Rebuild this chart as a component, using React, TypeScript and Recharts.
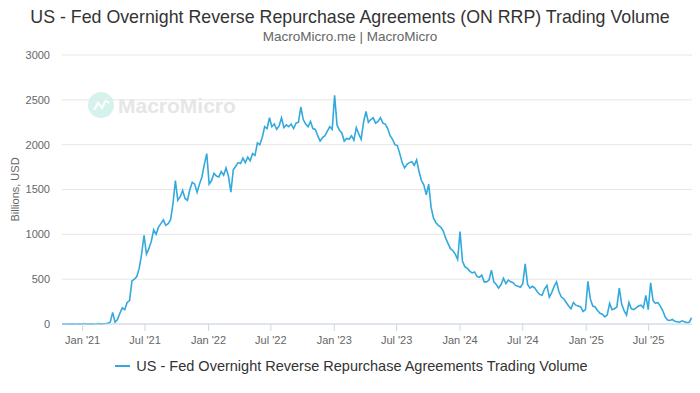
import React from "react";
import { LineChart, Line, XAxis, YAxis, CartesianGrid, Legend } from "recharts";

const SERIES_NAME = "US - Fed Overnight Reverse Repurchase Agreements Trading Volume";

// weekly readings, first one on 2 Nov 2020 (billions USD)
const startDate = Date.UTC(2020, 10, 2);
const stepDays = 7;

const volume = [
  0, 0, 0, 0, 1, 0, 0, 2, 0, 5,
  0, 1, 3, 0, 2, 5, 1, 3, 5, 8,
  20, 130, 20, 50, 120, 180, 160, 240, 260, 480,
  500, 530, 620, 780, 990, 780, 840, 920, 1050, 1000,
  1080, 1120, 1160, 1100, 1120, 1160, 1340, 1600, 1380, 1420,
  1490, 1400, 1380, 1500, 1580, 1560, 1470, 1560, 1640, 1780,
  1900, 1560, 1600, 1680, 1650, 1640, 1700, 1660, 1740, 1650,
  1470, 1720, 1760, 1800, 1790, 1850, 1800, 1860, 1820, 1900,
  1880, 2020, 2000, 2080, 2200, 2180, 2300, 2200, 2230, 2170,
  2210, 2300, 2190, 2220, 2200, 2230, 2180, 2240, 2250, 2420,
  2280, 2230, 2200, 2260, 2180, 2170, 2100, 2040, 2080, 2100,
  2150, 2200, 2170, 2550, 2220, 2160, 2130, 2040, 2070, 2060,
  2100, 2050, 2190, 2120, 2060, 2250, 2370, 2250, 2280, 2300,
  2240, 2260, 2300, 2240, 2230, 2180, 2100, 2060, 2000, 1990,
  1900, 1800, 1740, 1780, 1800, 1810, 1770, 1830, 1700, 1600,
  1550, 1440, 1560, 1300, 1180, 1130, 1100, 1080, 1040, 960,
  900, 840, 820, 780, 720, 1030, 700, 640, 620, 590,
  570, 580, 530, 520, 545, 470, 470, 490, 600, 470,
  440, 400, 440, 510, 450, 490, 470, 460, 430, 420,
  410, 450, 670, 440, 400, 420, 400, 360, 330, 320,
  390, 430, 300, 350, 420, 470, 360, 300, 280, 240,
  200, 170, 240, 210, 200, 190, 140, 160, 475, 280,
  200, 190, 150, 120, 110, 80, 100, 230, 160, 170,
  190, 400, 220, 150, 100, 240, 170, 160, 180, 200,
  210, 180, 320, 160, 460, 260, 230, 240, 200, 150,
  80, 45, 40, 50, 30, 25, 20, 35, 25, 15,
  20, 70,
];

const xTickDates = [
  "2021-01-01", "2021-07-01", "2022-01-01", "2022-07-01", "2023-01-01",
  "2023-07-01", "2024-01-01", "2024-07-01", "2025-01-01", "2025-07-01",
];
const xTickLabels = [
  "Jan '21", "Jul '21", "Jan '22", "Jul '22", "Jan '23",
  "Jul '23", "Jan '24", "Jul '24", "Jan '25", "Jul '25",
];
const yTicks = [0, 500, 1000, 1500, 2000, 2500, 3000];

const DAY = 86400000;
const data = volume.map((v, i) => ({ t: startDate + i * stepDays * DAY, v }));
const xTicks = xTickDates.map((d) => Date.parse(d + "T00:00:00Z"));
const xDomain = [startDate, Date.UTC(2025, 10, 4)];

const FONT = "'Liberation Sans', Arial, Helvetica, sans-serif";
const LINE_COLOR = "#33a9dd";

function LegendContent() {
  return (
    <div style={{ display: "flex", justifyContent: "center", alignItems: "center", fontFamily: FONT }}>
      <svg width={20} height={10} style={{ marginRight: 4 }}>
        <line x1={3} y1={5} x2={18} y2={5} stroke={LINE_COLOR} strokeWidth={2} />
      </svg>
      <span style={{ fontSize: 14.5, color: "#333" }}>{SERIES_NAME}</span>
    </div>
  );
}

export default function App() {
  return (
    <div style={{ position: "absolute", left: 0, top: 0, width: 700, height: 393, background: "#fff", fontFamily: FONT }}>
      <div style={{ position: "absolute", top: 7, width: 700, textAlign: "center", fontSize: 17.8, color: "#333" }}>
        US - Fed Overnight Reverse Repurchase Agreements (ON RRP) Trading Volume
      </div>
      <div style={{ position: "absolute", top: 29, width: 700, textAlign: "center", fontSize: 13.5, color: "#666" }}>
        MacroMicro.me | MacroMicro
      </div>
      <svg style={{ position: "absolute", left: 86, top: 90 }} width={160} height={30}>
        <circle cx={15} cy={15} r={13} fill="#d6f2ec" />
        <polyline points="8,20 12,13 16,18 20,10 23,13" fill="none" stroke="#fff" strokeWidth={2} />
        <text x={32} y={22.5} fontSize={21} fontWeight={700} fill="#e6e6e6" fontFamily={FONT}>
          MacroMicro
        </text>
      </svg>
      <LineChart width={700} height={393} data={data} margin={{ top: 55, right: 8, bottom: 19, left: 0 }}>
        <CartesianGrid vertical={false} stroke="#e6e6e6" />
        <XAxis
          dataKey="t"
          type="number"
          scale="time"
          domain={xDomain}
          allowDataOverflow
          ticks={xTicks}
          tickFormatter={(t: number) => xTickLabels[xTicks.indexOf(t)]}
          height={34}
          stroke="#ccd6eb"
          tickSize={7}
          tickMargin={5}
          tick={{ fontSize: 11, fill: "#666" }}
        />
        <YAxis
          domain={[0, 3000]}
          ticks={yTicks}
          width={62}
          axisLine={false}
          tickLine={false}
          tickSize={0}
          tickMargin={12}
          tick={{ fontSize: 11, fill: "#666" }}
          label={{
            value: "Billions, USD",
            angle: -90,
            position: "insideLeft",
            offset: 15,
            style: { textAnchor: "middle", fontSize: 11, fill: "#666" },
          }}
        />
        <Legend
          content={<LegendContent />}
          wrapperStyle={{ position: "absolute", top: 358, left: 0, width: 700 }}
        />
        <Line
          type="linear"
          dataKey="v"
          name={SERIES_NAME}
          stroke={LINE_COLOR}
          strokeWidth={1.6}
          dot={false}
          isAnimationActive={false}
        />
      </LineChart>
    </div>
  );
}
